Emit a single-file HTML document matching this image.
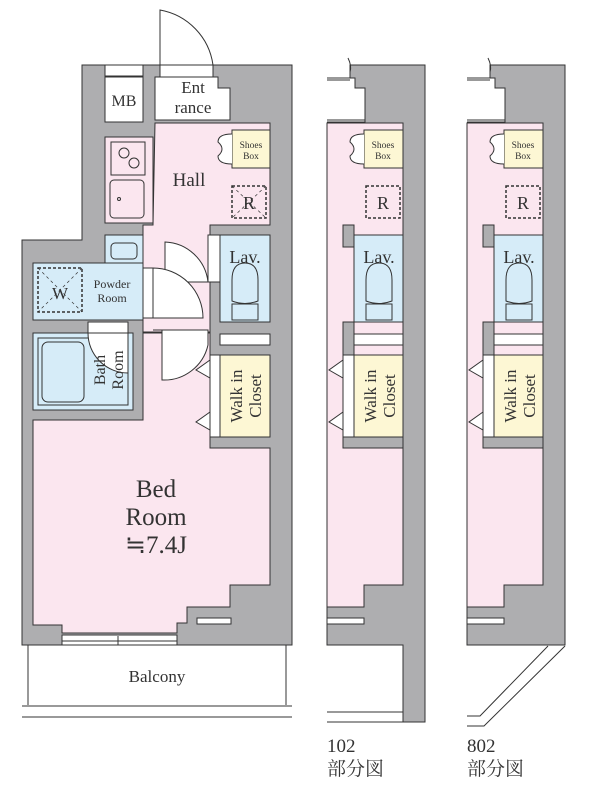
<!DOCTYPE html>
<html><head><meta charset="utf-8"><style>
html,body{margin:0;padding:0;background:#fff;}
svg{display:block}
text{font-family:"Liberation Serif","Noto Serif CJK SC",serif;fill:#333}
</style></head><body>
<svg width="600" height="800" viewBox="0 0 600 800" xmlns="http://www.w3.org/2000/svg">
<g stroke="#333" stroke-width="1">
<path d="M82 65 H292 V645 H22 V240 H82 Z" fill="#aeaeb0"/>
<path d="M160 75 V10 A65 65 0 0 1 213 65 V75" fill="#fff"/>
<rect x="160" y="65" width="53" height="12" fill="#fff"/>
<rect x="105" y="65" width="38" height="11" fill="#fff"/>
<rect x="105" y="77" width="38" height="45" fill="#fff"/>
<path d="M155 77 H218 V88 H230 V120 H155 Z" fill="#fff"/>
<path d="M155 123 H270 V225 H210 V332 H143 V225 H153 Z" fill="#fbe6ef"/>
<rect x="105" y="137" width="48" height="86" fill="#fbe6ef"/>
<path d="M143 333 H210 V448 H270 V585 H230 V607 H187 V623 H177 V633 H62 V625 H33 V420 H143 Z" fill="#fbe6ef"/>
<rect x="111" y="142" width="34" height="33" fill="none"/>
<circle cx="124" cy="153" r="5" fill="none"/><circle cx="134" cy="163" r="5" fill="none"/>
<rect x="110" y="180" width="34" height="38" rx="4" fill="none"/>
<circle cx="119" cy="199" r="1.5" fill="none"/>
<rect x="232" y="130" width="38" height="38" fill="#fdf7d4"/>
<path d="M232 134 Q218 134 218 142 Q226 149 218 156 Q218 164 232 164" fill="#fff"/>
<rect x="232" y="186" width="34" height="32" fill="none" stroke-dasharray="3 2" stroke-width="1.5"/>
<path d="M232 186 L266 218 M266 186 L232 218" stroke-dasharray="3 3" stroke-width="0.7"/>
<rect x="220" y="235" width="50" height="87" fill="#d6ecf8"/>
<path d="M232 301 V280 Q232 263 245 263 Q258 263 258 280 V301 Q245 306 232 301 Z" fill="none"/>
<rect x="232" y="304" width="26" height="16" fill="none"/>
<rect x="208" y="235" width="12" height="47" fill="#fff"/>
<path d="M208 282 A45 45 0 0 0 165 242 V282 Z" fill="#fff"/>
<rect x="220" y="334" width="50" height="11" fill="#fff"/>
<rect x="220" y="355" width="50" height="82" fill="#fdf7d4"/>
<rect x="210" y="355" width="10" height="82" fill="#fff"/>
<path d="M210 360 L196 370 L210 378 Z M210 412 L196 422 L210 430 Z" fill="#fff"/>
<path d="M153 330 H208 V345 A45 45 0 0 1 162 380 V330" fill="#fff"/>
<rect x="105" y="235" width="38" height="28" fill="#d6ecf8"/>
<rect x="111" y="243" width="26" height="16" rx="4" fill="none"/>
<rect x="33" y="263" width="110" height="57" fill="#d6ecf8"/>
<rect x="38" y="268" width="44" height="44" fill="none" stroke-dasharray="3 2" stroke-width="1.5"/>
<path d="M38 268 L82 312 M82 268 L38 312" stroke-dasharray="3 3" stroke-width="0.7"/>
<rect x="143" y="268" width="10" height="50" fill="#fff"/>
<path d="M153 268 A50 50 0 0 1 203 318 H153 Z" fill="#fff"/>
<rect x="33" y="333" width="100" height="77" fill="#d6ecf8"/>
<rect x="38" y="338" width="90" height="67" fill="none"/>
<rect x="42" y="342" width="42" height="60" rx="6" fill="none"/>
<rect x="88" y="322" width="40" height="11" fill="#fff"/>
<path d="M88 333 A40 40 0 0 0 128 373 V333 Z" fill="#fff"/>
<rect x="62" y="635" width="115" height="10" fill="#fff"/>
<line x1="62" y1="641" x2="177" y2="641"/><line x1="118" y1="636" x2="118" y2="645"/>
<rect x="197" y="618" width="34" height="6" fill="#fff"/>
<path d="M28 645 V705 M286 645 V705" fill="none"/>
<line x1="22" y1="706" x2="292" y2="706"/><line x1="22" y1="717" x2="292" y2="717"/>

<g>
<path d="M327 123 H403 V585 H364 V607 H327 Z" fill="#fbe6ef"/>
<path d="M350 65 H425 V722 H403 V645 H327 V607 H364 V585 H403 V123 H365 V88 H355 V78 H350 Z" fill="#aeaeb0"/>
<path d="M327 80 H350 M327 78 H355 M327 120 H365 M327 122 H365" fill="none"/>
<path d="M348 58 Q352 66 350 72" fill="none"/>
<rect x="364" y="130" width="39" height="38" fill="#fdf7d4"/>
<path d="M364 134 Q350 134 350 142 Q358 149 350 156 Q350 164 364 164" fill="#fff"/>
<rect x="366" y="186" width="34" height="32" fill="none" stroke-dasharray="3 2" stroke-width="1.5"/>
<rect x="354" y="235" width="49" height="87" fill="#d6ecf8"/>
<path d="M366 301 V280 Q366 263 379 263 Q392 263 392 280 V301 Q379 306 366 301 Z" fill="none"/>
<rect x="366" y="304" width="26" height="16" fill="none"/>
<rect x="343" y="225" width="11" height="22" fill="#aeaeb0"/>
<rect x="343" y="322" width="11" height="33" fill="#aeaeb0"/>
<rect x="343" y="437" width="60" height="11" fill="#aeaeb0"/>
<rect x="354" y="334" width="49" height="11" fill="#fff"/>
<rect x="354" y="355" width="49" height="82" fill="#fdf7d4"/>
<rect x="343" y="355" width="11" height="82" fill="#fff"/>
<path d="M343 360 L329 370 L343 378 Z M343 412 L329 422 L343 430 Z" fill="#fff"/>
<rect x="327" y="618" width="37" height="6" fill="#fff"/>
</g>
<line x1="327" y1="712" x2="403" y2="712"/><line x1="327" y1="722" x2="403" y2="722"/>

<g transform="translate(140,0)">
<path d="M327 123 H403 V585 H364 V607 H327 Z" fill="#fbe6ef"/>
<path d="M350 65 H425 V645 H327 V607 H364 V585 H403 V123 H365 V88 H355 V78 H350 Z" fill="#aeaeb0"/>
<path d="M327 80 H350 M327 78 H355 M327 120 H365 M327 122 H365" fill="none"/>
<path d="M348 58 Q352 66 350 72" fill="none"/>
<rect x="364" y="130" width="39" height="38" fill="#fdf7d4"/>
<path d="M364 134 Q350 134 350 142 Q358 149 350 156 Q350 164 364 164" fill="#fff"/>
<rect x="366" y="186" width="34" height="32" fill="none" stroke-dasharray="3 2" stroke-width="1.5"/>
<rect x="354" y="235" width="49" height="87" fill="#d6ecf8"/>
<path d="M366 301 V280 Q366 263 379 263 Q392 263 392 280 V301 Q379 306 366 301 Z" fill="none"/>
<rect x="366" y="304" width="26" height="16" fill="none"/>
<rect x="343" y="225" width="11" height="22" fill="#aeaeb0"/>
<rect x="343" y="322" width="11" height="33" fill="#aeaeb0"/>
<rect x="343" y="437" width="60" height="11" fill="#aeaeb0"/>
<rect x="354" y="334" width="49" height="11" fill="#fff"/>
<rect x="354" y="355" width="49" height="82" fill="#fdf7d4"/>
<rect x="343" y="355" width="11" height="82" fill="#fff"/>
<path d="M343 360 L329 370 L343 378 Z M343 412 L329 422 L343 430 Z" fill="#fff"/>
<rect x="327" y="618" width="37" height="6" fill="#fff"/>
<path d="M327 716 H340 L408 646 M327 726 H344 L425 646" fill="none"/>
</g>
</g>

<text x="124" y="106" font-size="16" text-anchor="middle">MB</text>
<text x="193" y="93" font-size="17" text-anchor="middle">Ent</text>
<text x="193" y="113" font-size="17" text-anchor="middle">rance</text>
<text x="189" y="186" font-size="19" text-anchor="middle">Hall</text>
<g font-size="9.5" text-anchor="middle"><text x="251" y="148">Shoes</text><text x="251" y="159">Box</text>
<text x="383" y="148">Shoes</text><text x="383" y="159">Box</text>
<text x="523" y="148">Shoes</text><text x="523" y="159">Box</text></g>
<g font-size="18" text-anchor="middle"><text x="249" y="209">R</text><text x="383" y="209">R</text><text x="523" y="209">R</text></g>
<g font-size="18" text-anchor="middle"><text x="245" y="263">Lav.</text><text x="379" y="263">Lav.</text><text x="519" y="263">Lav.</text></g>
<text x="60" y="299" font-size="17" text-anchor="middle">W</text>
<text x="112" y="288" font-size="12" text-anchor="middle">Powder</text>
<text x="112" y="302" font-size="12" text-anchor="middle">Room</text>
<g font-size="16" text-anchor="middle">
<text transform="translate(105,370) rotate(-90)">Bath</text>
<text transform="translate(123,370) rotate(-90)">Room</text></g>
<g font-size="17" text-anchor="middle">
<text transform="translate(242,396) rotate(-90)">Walk in</text><text transform="translate(261,396) rotate(-90)">Closet</text>
<text transform="translate(376,396) rotate(-90)">Walk in</text><text transform="translate(395,396) rotate(-90)">Closet</text>
<text transform="translate(516,396) rotate(-90)">Walk in</text><text transform="translate(535,396) rotate(-90)">Closet</text></g>
<g font-size="25" text-anchor="middle"><text x="156" y="497">Bed</text><text x="156" y="525">Room</text><text x="156" y="553">≒7.4J</text></g>
<text x="157" y="682" font-size="17" text-anchor="middle">Balcony</text>
<g font-size="19"><text x="327" y="752">102</text><text x="327" y="775">部分図</text>
<text x="467" y="752">802</text><text x="467" y="775">部分図</text></g>
</svg>
</body></html>
